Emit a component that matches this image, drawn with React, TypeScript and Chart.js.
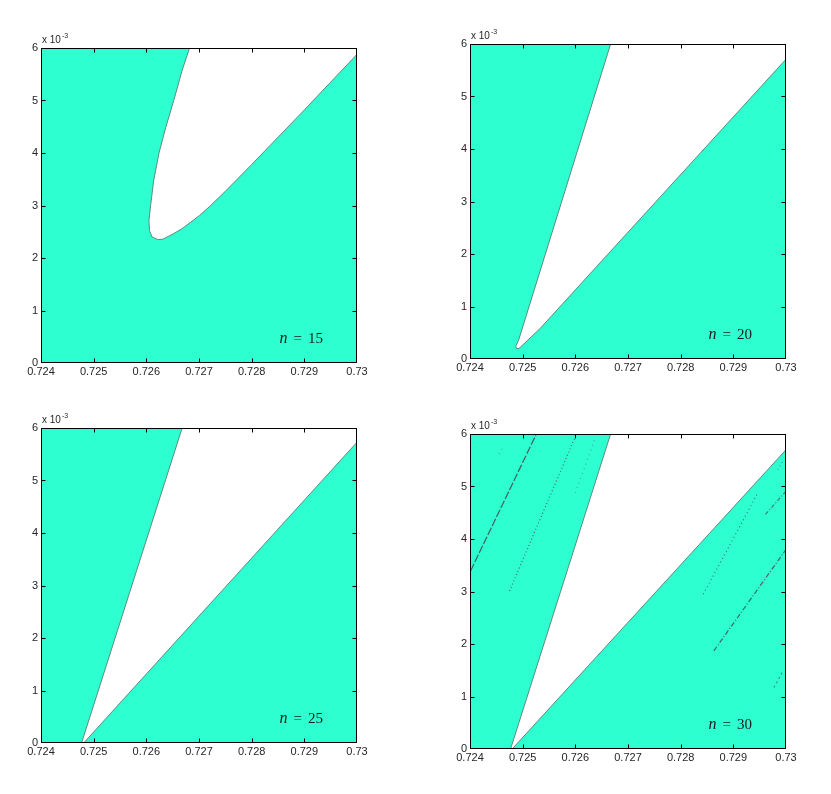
import React, { useEffect, useRef } from "react";
import { Chart, registerables } from "chart.js";

Chart.register(...registerables);

// ---- axes ----
const X_RANGE = [0.724, 0.73];
const Y_RANGE = [0, 6]; // in units of 10^-3
const xTicks = [0.724, 0.725, 0.726, 0.727, 0.728, 0.729, 0.73];
const xTickLabels = ["0.724", "0.725", "0.726", "0.727", "0.728", "0.729", "0.73"];
const yTicks = [0, 1, 2, 3, 4, 5, 6];
const yTickLabels = ["0", "1", "2", "3", "4", "5", "6"];
const yMultiplierBase = "x 10";
const yMultiplierExp = "-3";
const panelN = [15, 20, 25, 30];

// ---- boundary of the white region (top edge -> tip -> right edge), y in 10^-3 ----
const edgeX15 = [0.72682, 0.72668, 0.72652, 0.72637, 0.72624, 0.72614, 0.72608, 0.72605, 0.72606, 0.72611, 0.72622, 0.72632, 0.72651, 0.72668, 0.72684, 0.72701, 0.7272, 0.7275, 0.728, 0.729, 0.73];
const edgeY15 = [6.0, 5.575, 5.0, 4.49, 4.0, 3.48, 2.99, 2.71, 2.52, 2.4, 2.35, 2.36, 2.46, 2.56, 2.68, 2.81, 2.98, 3.27, 3.78, 4.82, 5.88];

const edgeX20 = [0.72667, 0.72492, 0.72487, 0.72488, 0.72493, 0.7251, 0.72533, 0.73];
const edgeY20 = [6.0, 0.35, 0.25, 0.2, 0.2, 0.36, 0.58, 5.71];

const edgeX25 = [0.72668, 0.72477, 0.72481, 0.73];
const edgeY25 = [6.0, 0.0, 0.0, 5.73];

const edgeX30 = [0.72667, 0.72477, 0.7248, 0.73];
const edgeY30 = [6.0, 0.0, 0.0, 5.7];

// ---- faint streaks inside the n = 30 panel ----
const streakAX = [0.72401, 0.72526];
const streakAY = [3.39, 6.0];
const streakBX = [0.72475, 0.726];
const streakBY = [3.01, 5.95];
const streakCX = [0.726, 0.72637];
const streakCY = [4.88, 5.9];
const streakDX = [0.72843, 0.72945];
const streakDY = [2.95, 4.85];
const streakEX = [0.72863, 0.73];
const streakEY = [1.87, 3.8];
const streakFX = [0.72977, 0.72993];
const streakFY = [1.17, 1.46];
const streakGX = [0.72961, 0.73];
const streakGY = [4.47, 4.91];
const streakHX = [0.72984, 0.72995];
const streakHY = [5.32, 5.5];
const streakIX = [0.72455, 0.72462];
const streakIY = [5.62, 5.75];

const CYAN = "#2effd0";
const EDGE = "#5b8c80";
const TEXT = "#262626";
const FONT_FAMILY = '"Liberation Sans", Arial, Helvetica, sans-serif';

type Streak = { xs: number[]; ys: number[]; dash: number[]; alpha: number };

const streaks30: Streak[] = [
  { xs: streakAX, ys: streakAY, dash: [8, 2], alpha: 1 },
  { xs: streakBX, ys: streakBY, dash: [1, 2.5], alpha: 0.9 },
  { xs: streakCX, ys: streakCY, dash: [1, 4], alpha: 0.5 },
  { xs: streakDX, ys: streakDY, dash: [1, 3], alpha: 0.85 },
  { xs: streakEX, ys: streakEY, dash: [5, 2, 1, 2], alpha: 0.95 },
  { xs: streakFX, ys: streakFY, dash: [2, 3], alpha: 0.7 },
  { xs: streakGX, ys: streakGY, dash: [4, 2, 1, 2], alpha: 0.8 },
  { xs: streakHX, ys: streakHY, dash: [1, 3], alpha: 0.6 },
  { xs: streakIX, ys: streakIY, dash: [1, 4], alpha: 0.5 },
];

const PLOT_W = 316;
const PLOT_H = 315;
const PAD_L = 40;
const PAD_T = 25;
const PAD_R = 25;
const PAD_B = 35;

const panels = [
  { n: panelN[0], edgeX: edgeX15, edgeY: edgeY15, streaks: [] as Streak[], left: 41, top: 48 },
  { n: panelN[1], edgeX: edgeX20, edgeY: edgeY20, streaks: [] as Streak[], left: 470, top: 44 },
  { n: panelN[2], edgeX: edgeX25, edgeY: edgeY25, streaks: [] as Streak[], left: 41, top: 428 },
  { n: panelN[3], edgeX: edgeX30, edgeY: edgeY30, streaks: streaks30, left: 470, top: 434 },
];

function makeChart(canvas: HTMLCanvasElement, panel: (typeof panels)[number]) {
  const edge = panel.edgeX.map((x, i) => ({ x, y: panel.edgeY[i] }));
  const region = [
    { x: X_RANGE[0], y: Y_RANGE[0] },
    { x: X_RANGE[1], y: Y_RANGE[0] },
    ...edge.slice().reverse(),
    { x: X_RANGE[0], y: Y_RANGE[1] },
  ];

  const datasets: any[] = [
    {
      data: region,
      showLine: true,
      fill: "shape",
      backgroundColor: CYAN,
      borderColor: "rgba(0,0,0,0)",
      borderWidth: 0,
      pointRadius: 0,
      tension: 0,
      order: 10,
    },
    {
      data: edge,
      showLine: true,
      fill: false,
      borderColor: EDGE,
      borderWidth: 1,
      pointRadius: 0,
      tension: 0,
      order: 5,
    },
  ];
  panel.streaks.forEach((s) => {
    datasets.push({
      data: s.xs.map((x, i) => ({ x, y: s.ys[i] })),
      showLine: true,
      fill: false,
      borderColor: `rgba(70,75,85,${0.9 * s.alpha})`,
      borderWidth: 1.2,
      borderDash: s.dash,
      pointRadius: 0,
      tension: 0,
      order: 1,
    });
  });

  const font = { family: FONT_FAMILY, size: 11 };

  const framePlugin = {
    id: "frame" + panel.n,
    afterDraw(chart: any) {
      const { ctx, chartArea: a, scales } = chart;
      const l = Math.round(a.left) + 0.5;
      const r = Math.round(a.right) - 0.5;
      const t = Math.round(a.top) + 0.5;
      const b = Math.round(a.bottom) - 0.5;
      const clamp = (v: number, lo: number, hi: number) => Math.min(hi, Math.max(lo, v));
      ctx.save();
      ctx.strokeStyle = "#000";
      ctx.lineWidth = 1;
      ctx.setLineDash([]);
      ctx.strokeRect(l, t, r - l, b - t);
      ctx.beginPath();
      xTicks.forEach((v) => {
        const px = clamp(Math.round(scales.x.getPixelForValue(v)) + 0.5, l, r);
        ctx.moveTo(px, b);
        ctx.lineTo(px, b - 4);
        ctx.moveTo(px, t);
        ctx.lineTo(px, t + 4);
      });
      yTicks.forEach((v) => {
        const py = clamp(Math.round(scales.y.getPixelForValue(v)) + 0.5, t, b);
        ctx.moveTo(l, py);
        ctx.lineTo(l + 4, py);
        ctx.moveTo(r, py);
        ctx.lineTo(r - 4, py);
      });
      ctx.stroke();

      // multiplier
      ctx.fillStyle = TEXT;
      ctx.textBaseline = "alphabetic";
      ctx.textAlign = "left";
      ctx.font = `10px ${FONT_FAMILY}`;
      ctx.fillText(yMultiplierBase, a.left + 1, a.top - 5);
      const w = ctx.measureText(yMultiplierBase).width;
      ctx.font = `7px ${FONT_FAMILY}`;
      ctx.fillText(yMultiplierExp, a.left + 1 + w + 1, a.top - 10);

      // n label
      const serif = '"Liberation Serif", "Times New Roman", "DejaVu Serif", serif';
      ctx.fillStyle = "#1a1a1a";
      ctx.font = `italic 16px ${serif}`;
      const nW = ctx.measureText("n").width;
      ctx.font = `15px ${serif}`;
      const eqW = ctx.measureText("=").width;
      const numStr = String(panel.n);
      const numW = ctx.measureText(numStr).width;
      const gap = 6;
      const total = nW + gap + eqW + gap + numW;
      let x = a.right - 34 - total;
      const y = a.bottom - 20;
      ctx.font = `italic 16px ${serif}`;
      ctx.fillText("n", x, y);
      x += nW + gap;
      ctx.font = `15px ${serif}`;
      ctx.fillText("=", x, y);
      x += eqW + gap;
      ctx.fillText(numStr, x, y);
      ctx.restore();
    },
  };

  return new Chart(canvas, {
    type: "scatter",
    data: { datasets },
    options: {
      animation: false,
      responsive: false,
      devicePixelRatio: 1,
      layout: { padding: { top: PAD_T, right: PAD_R, left: 0, bottom: 0 } },
      plugins: { legend: { display: false }, tooltip: { enabled: false } },
      events: [],
      scales: {
        x: {
          type: "linear",
          min: X_RANGE[0],
          max: X_RANGE[1],
          afterBuildTicks: (s: any) => {
            s.ticks = xTicks.map((v) => ({ value: v }));
          },
          afterFit: (s: any) => {
            s.height = PAD_B;
          },
          ticks: {
            autoSkip: false,
            maxRotation: 0,
            minRotation: 0,
            padding: 2,
            font,
            color: TEXT,
            callback: (_v: any, i: number) => xTickLabels[i],
          },
          grid: { display: false, drawTicks: false, tickLength: 0 },
          border: { display: false },
        },
        y: {
          type: "linear",
          min: Y_RANGE[0],
          max: Y_RANGE[1],
          afterBuildTicks: (s: any) => {
            s.ticks = yTicks.map((v) => ({ value: v }));
          },
          afterFit: (s: any) => {
            s.width = PAD_L;
          },
          ticks: {
            autoSkip: false,
            padding: 3,
            font,
            color: TEXT,
            callback: (_v: any, i: number) => yTickLabels[i],
          },
          grid: { display: false, drawTicks: false, tickLength: 0 },
          border: { display: false },
        },
      },
    } as any,
    plugins: [framePlugin],
  });
}

function Panel({ panel }: { panel: (typeof panels)[number] }) {
  const ref = useRef<HTMLCanvasElement | null>(null);
  useEffect(() => {
    if (!ref.current) return;
    const chart = makeChart(ref.current, panel);
    return () => chart.destroy();
  }, [panel]);
  const w = PAD_L + PLOT_W + PAD_R;
  const h = PAD_T + PLOT_H + PAD_B;
  return (
    <canvas
      ref={ref}
      width={w}
      height={h}
      style={{
        position: "absolute",
        left: panel.left - PAD_L,
        top: panel.top - PAD_T,
        width: w,
        height: h,
      }}
    />
  );
}

export default function App() {
  return (
    <div
      style={{
        position: "absolute",
        left: 0,
        top: 0,
        width: 831,
        height: 794,
        background: "#ffffff",
        overflow: "hidden",
      }}
    >
      {panels.map((p) => (
        <Panel key={p.n} panel={p} />
      ))}
    </div>
  );
}
